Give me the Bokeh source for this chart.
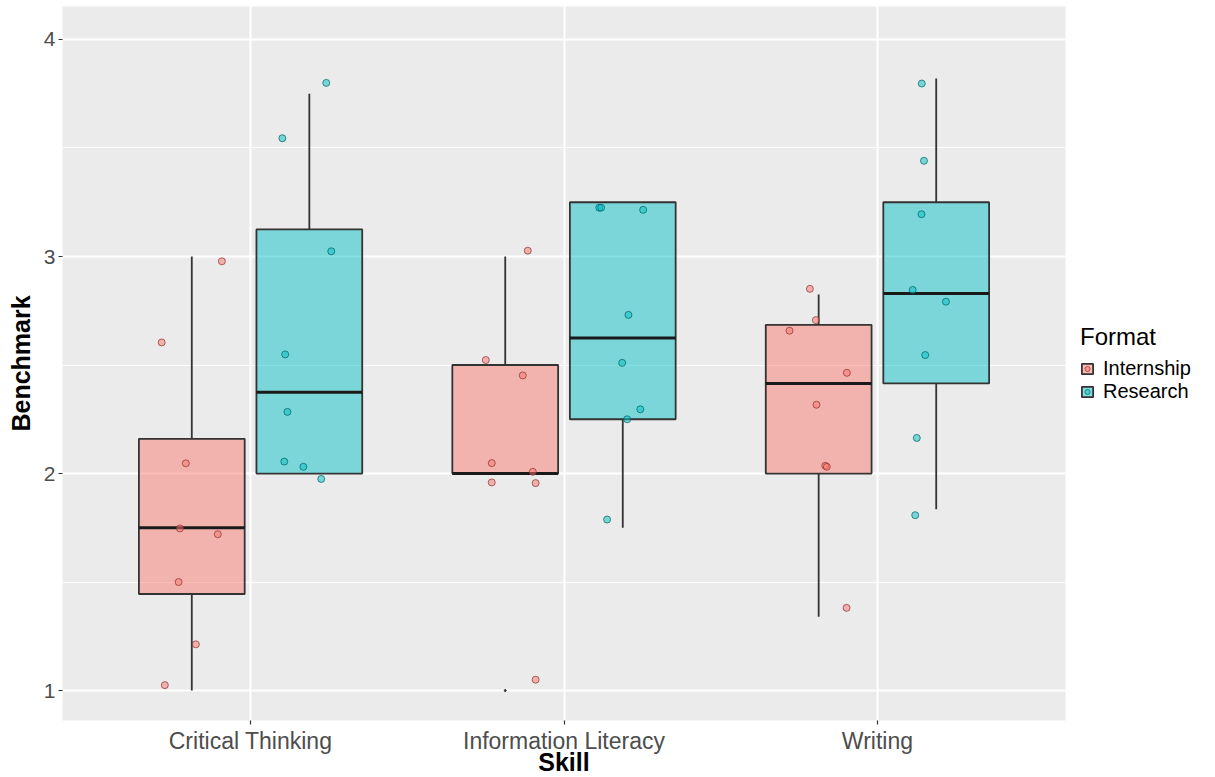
from bokeh.plotting import figure
from bokeh.models import ColumnDataSource, FixedTicker, Legend, LegendItem, Range1d
from bokeh.embed import file_html
from bokeh.resources import INLINE

# ---------------- data ----------------
skills = ["Critical Thinking", "Information Literacy", "Writing"]
formats = ["Internship", "Research"]

# box statistics per skill (order of `skills`)
int_lower = [1.0, 2.0, 1.34]
int_q1 = [1.445, 2.0, 2.0]
int_median = [1.75, 2.0, 2.415]
int_q3 = [2.16, 2.5, 2.685]
int_upper = [3.0, 3.0, 2.825]

res_lower = [2.0, 1.75, 1.835]
res_q1 = [2.0, 2.25, 2.415]
res_median = [2.375, 2.625, 2.83]
res_q3 = [3.125, 3.25, 3.25]
res_upper = [3.75, 3.25, 3.82]

# outliers (skill index, value)
out_skill = [1]
out_format = ["Internship"]
out_value = [1.0]

# jittered observations
int_pt_skill = [0] * 8 + [1] * 8 + [2] * 8
int_pt_value = [2.978, 2.604, 2.047, 1.747, 1.72, 1.5, 1.213, 1.025,
                3.027, 2.523, 2.452, 2.048, 2.008, 1.959, 1.956, 1.05,
                2.851, 2.707, 2.658, 2.464, 2.317, 2.036, 2.031, 1.381]
int_pt_jitter = [0.096, -0.096, -0.019, -0.038, 0.083, -0.042, 0.013, -0.086,
                 0.072, -0.062, 0.056, -0.043, 0.088, -0.043, 0.097, 0.097,
                 -0.028, -0.009, -0.093, 0.090, -0.007, 0.021, 0.026, 0.089]

res_pt_skill = [0] * 8 + [1] * 8 + [2] * 8
res_pt_value = [3.80, 3.545, 3.024, 2.549, 2.284, 2.055, 2.031, 1.975,
                3.225, 3.225, 3.215, 2.731, 2.510, 2.296, 2.250, 1.788,
                3.797, 3.441, 3.195, 2.846, 2.792, 2.546, 2.164, 1.808]
res_pt_jitter = [0.054, -0.086, 0.070, -0.077, -0.070, -0.080, -0.019, 0.038,
                 -0.075, -0.069, 0.065, 0.018, -0.002, 0.056, 0.014, -0.050,
                 -0.046, -0.039, -0.047, -0.075, 0.031, -0.035, -0.062, -0.067]

y_ticks = [1, 2, 3, 4]
y_minor = [1.5, 2.5, 3.5]

# ---------------- style ----------------
fill = {"Internship": "#F8766D", "Research": "#00BFC4"}
edge = {"Internship": "#8B2E2A", "Research": "#005F62"}
dodge = {"Internship": -0.1875, "Research": 0.1875}
box_w = 0.3375
FONT = "Liberation Sans"

p = figure(frame_width=1003, frame_height=714,
           x_range=Range1d(0.4, 3.6), y_range=Range1d(0.862, 4.152),
           output_backend="svg", toolbar_location=None,
           min_border_left=62, min_border_top=6, min_border_bottom=56,
           min_border_right=4)
p.background_fill_color = "#EBEBEB"
p.border_fill_color = "white"
p.outline_line_color = None

# grids
p.xgrid.ticker = FixedTicker(ticks=[1, 2, 3])
p.ygrid.ticker = FixedTicker(ticks=y_ticks, minor_ticks=y_minor)
for g in (p.xgrid, p.ygrid):
    g.grid_line_color = "white"
    g.grid_line_width = 2
p.ygrid.minor_grid_line_color = "white"
p.ygrid.minor_grid_line_width = 1

# axes
p.xaxis.ticker = FixedTicker(ticks=[1, 2, 3])
p.xaxis.major_label_overrides = {i + 1: s for i, s in enumerate(skills)}
p.yaxis.ticker = FixedTicker(ticks=y_ticks, minor_ticks=y_minor)
for ax in (p.xaxis, p.yaxis):
    ax.axis_line_color = None
    ax.major_tick_line_color = "#333333"
    ax.major_tick_line_width = 1.2
    ax.major_tick_out = 4
    ax.major_tick_in = 0
    ax.minor_tick_line_color = None
    ax.major_label_text_color = "#4D4D4D"
    ax.major_label_text_font = FONT
    ax.axis_label_text_font = FONT
    ax.axis_label_text_font_style = "bold"
    ax.axis_label_text_color = "black"
    ax.axis_label_text_font_size = "25px"
p.xaxis.major_label_text_font_size = "23px"
p.yaxis.major_label_text_font_size = "21px"
p.xaxis.major_label_standoff = 3
p.yaxis.major_label_standoff = 3
p.xaxis.axis_label = "Skill"
p.yaxis.axis_label = "Benchmark"
p.xaxis.axis_label_standoff = -9
p.yaxis.axis_label_standoff = 6

stats = {
    "Internship": (int_lower, int_q1, int_median, int_q3, int_upper),
    "Research": (res_lower, res_q1, res_median, res_q3, res_upper),
}
points = {
    "Internship": (int_pt_skill, int_pt_value, int_pt_jitter),
    "Research": (res_pt_skill, res_pt_value, res_pt_jitter),
}

legend_items = []
for f in formats:
    lo, q1, med, q3, up = stats[f]
    xs = [i + 1 + dodge[f] for i in range(len(skills))]
    src = ColumnDataSource(dict(
        x=xs, lo=lo, q1=q1, med=med, q3=q3, up=up,
        x0=[x - box_w / 2 for x in xs], x1=[x + box_w / 2 for x in xs]))
    # whiskers
    p.segment(x0="x", x1="x", y0="q3", y1="up", source=src,
              line_color="#333333", line_width=1.8)
    p.segment(x0="x", x1="x", y0="lo", y1="q1", source=src,
              line_color="#333333", line_width=1.8)
    # boxes
    box = p.vbar(x="x", width=box_w, bottom="q1", top="q3", source=src,
                 fill_color=fill[f], fill_alpha=0.48,
                 line_color="#333333", line_width=1.8)
    # medians
    p.segment(x0="x0", x1="x1", y0="med", y1="med", source=src,
              line_color="#1A1A1A", line_width=3)
    # outliers
    ox = [s + 1 + dodge[ff] for s, ff in zip(out_skill, out_format) if ff == f]
    oy = [v for v, ff in zip(out_value, out_format) if ff == f]
    if ox:
        p.scatter(x=ox, y=oy, size=2, color="#333333")
    # jittered points
    sk, val, jit = points[f]
    px = [s + 1 + dodge[f] + j for s, j in zip(sk, jit)]
    pts = p.scatter(x=px, y=val, size=7, fill_color=fill[f], fill_alpha=0.5,
                    line_color=edge[f], line_alpha=0.7, line_width=1)
    legend_items.append(LegendItem(label=f, renderers=[box, pts]))

legend = Legend(items=legend_items, title="Format", location="center_left",
                orientation="vertical")
legend.title_text_font = FONT
legend.title_text_font_size = "24px"
legend.title_text_font_style = "normal"
legend.title_text_color = "black"
legend.title_standoff = 6
legend.label_text_font = FONT
legend.label_text_font_size = "20px"
legend.label_text_color = "black"
legend.label_standoff = 9
legend.glyph_width = 14
legend.glyph_height = 13
legend.label_height = 13
legend.spacing = -9
legend.padding = 6
legend.margin = 15
legend.border_line_color = None
legend.background_fill_color = "white"
p.add_layout(legend, "right")

open("out.html", "w").write(file_html(p, INLINE))
